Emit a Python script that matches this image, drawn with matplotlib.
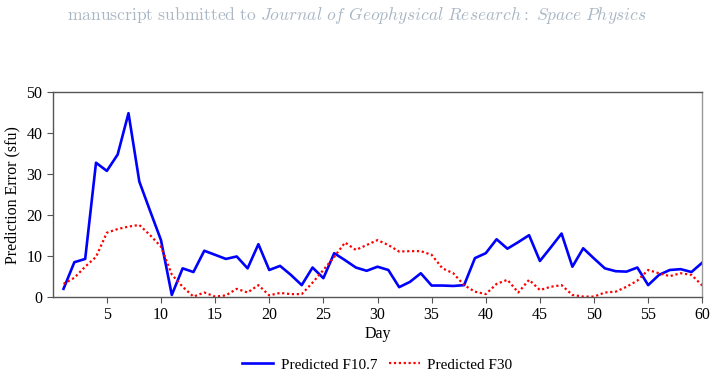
import matplotlib.pyplot as plt

days = list(range(1, 61))
f107_err = [2.0, 8.5, 9.3, 32.8, 30.8, 34.8, 44.9, 28.2, 21.0, 13.9,
            0.5, 7.0, 6.1, 11.3, 10.3, 9.3, 9.9, 7.0, 12.9, 6.6,
            7.6, 5.4, 2.9, 7.2, 4.6, 10.7, 9.0, 7.2, 6.4, 7.4,
            6.6, 2.4, 3.7, 5.8, 2.8, 2.8, 2.7, 2.9, 9.5, 10.7,
            14.1, 11.8, 13.4, 15.1, 8.8, 12.1, 15.5, 7.4, 11.9, 9.4,
            7.0, 6.3, 6.2, 7.2, 2.9, 5.4, 6.6, 6.8, 6.1, 8.4]
f30_err = [3.2, 4.7, 7.4, 9.8, 15.7, 16.6, 17.2, 17.6, 15.1, 12.3,
           5.5, 2.5, 0.1, 1.1, 0.1, 0.4, 2.0, 1.1, 2.9, 0.4,
           1.0, 0.7, 0.7, 3.5, 6.6, 9.8, 13.3, 11.5, 12.7, 13.9,
           12.7, 11.1, 11.2, 11.2, 10.3, 7.0, 5.8, 2.9, 1.3, 0.7,
           3.2, 4.2, 1.1, 4.2, 1.7, 2.5, 2.9, 0.5, 0.1, 0.1,
           1.1, 1.3, 2.5, 4.0, 6.6, 5.8, 5.1, 5.8, 5.4, 2.8]

plt.rcParams['font.family'] = 'Liberation Serif'

fig = plt.figure(figsize=(7.17, 3.76), dpi=100)
ax = fig.add_axes([0.0735, 0.2101, 0.906, 0.5444])

ax.plot(days, f107_err, color='#0000ff', lw=1.9, label='Predicted F10.7')
ax.plot(days, f30_err, color='#ff0000', lw=1.6, linestyle=(0, (1, 1.2)),
        label='Predicted F30')

ax.set_xlim(0, 60)
ax.set_ylim(0, 50)
ax.set_xticks(range(5, 61, 5))
ax.set_yticks(range(0, 51, 10))
ax.tick_params(labelsize=11.5, color='#555555', length=4)
for s in ax.spines.values():
    s.set_color('#555555')
    s.set_linewidth(1.0)
ax.spines['right'].set_color('#999999')

ax.set_xlabel('Day', fontsize=11.5, labelpad=2)
ax.set_ylabel('Prediction Error (sfu)', fontsize=11.5, labelpad=4)

ax.legend(loc='upper center', bbox_to_anchor=(0.5, -0.23), ncol=2,
          frameon=False, fontsize=11, handlelength=2.0, columnspacing=0.8,
          handletextpad=0.5)

# journal header
fig.text(0.498, 0.96,
         r'$\mathrm{manuscript\ submitted\ to\ }'
         r'\mathit{Journal\ of\ Geophysical\ Research{:}\ Space\ Physics}$',
         color='#aab7c4', fontsize=12.6, ha='center', va='center',
         math_fontfamily='cm')

fig.savefig('out.png', dpi=100)
